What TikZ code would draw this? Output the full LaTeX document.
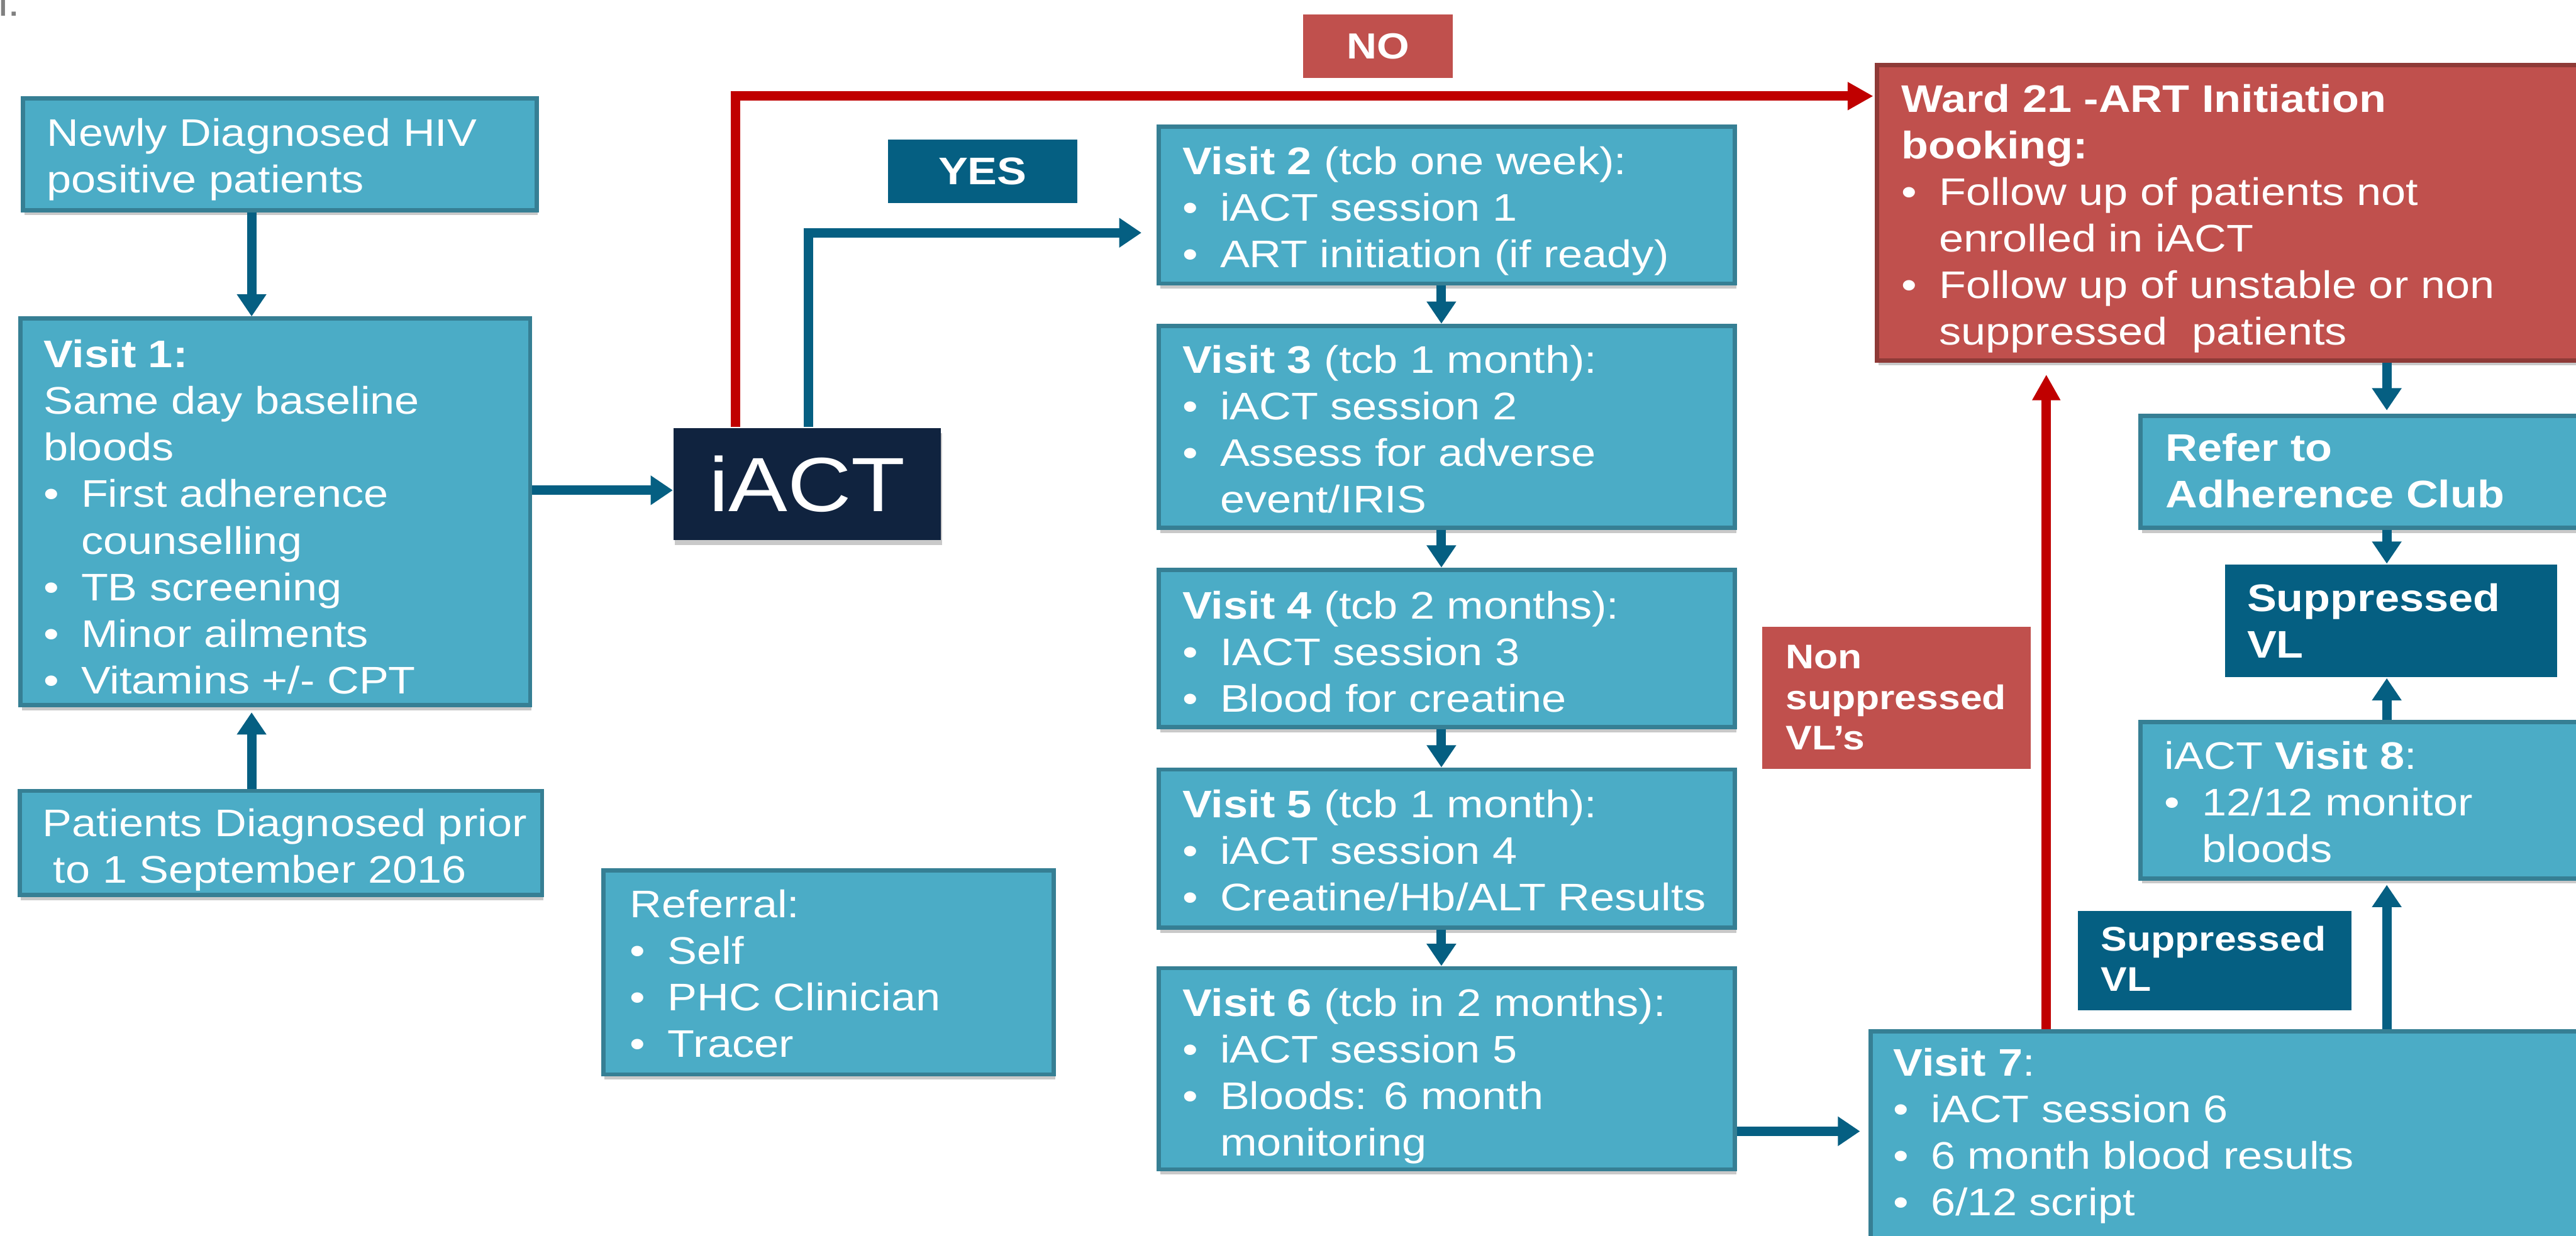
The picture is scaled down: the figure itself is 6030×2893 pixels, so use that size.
\documentclass[tikz,border=0pt]{standalone}
\usepackage{fontspec}
\setmainfont{Liberation Sans}[FakeStretch=1.15]
\usetikzlibrary{arrows.meta,fit,shadows}
\definecolor{boxfill}{HTML}{4BACC6}
\definecolor{boxline}{HTML}{367F94}
\definecolor{arrowblue}{HTML}{055F82}
\definecolor{navy}{HTML}{10233F}
\definecolor{redfill}{HTML}{C0504D}
\definecolor{redline}{HTML}{8E3A37}
\definecolor{redarrow}{HTML}{C00000}
\newcommand\txtblock[1]{\begin{minipage}[t]{200pt}\parindent=0pt\parskip=0pt #1\end{minipage}}
\newcommand\bitem{\par\hangindent=8.8pt\hangafter=1\noindent\makebox[8.8pt][l]{•}}
\tikzset{
  shad/.style={drop shadow={shadow xshift=0.3pt, shadow yshift=-1.2pt, opacity=0.3, fill=black!70}},
  box/.style={fill=boxfill, draw=boxline, line width=1pt, inner sep=0pt, shad},
  redbox/.style={fill=redfill, draw=redline, line width=1pt, inner sep=0pt, shad},
  navybox/.style={fill=navy, inner sep=0pt, shad},
  labelblue/.style={fill=arrowblue, inner sep=0pt},
  labelred/.style={fill=redfill, inner sep=0pt},
  ctxt/.style={inner sep=0pt, anchor=center, text=white},
  txt/.style={inner sep=0pt, anchor=base west, text=white, font=\fontsize{9pt}{10.9pt}\selectfont},
  barrow/.style={draw=arrowblue, line width=2.2pt, -{Triangle[width=6.6pt,length=5.2pt]}},
  rarrow/.style={draw=redarrow, line width=2.2pt, -{Triangle[width=6.2pt,length=6pt]}},
}
\begin{document}
\begin{tikzpicture}[x=0.1pt,y=-0.1pt]
\useasboundingbox (0,0) rectangle (6030,2893);
\clip (0,0) rectangle (6030,2893);

\node[inner sep=0pt, anchor=base west, text=black!50, font=\fontsize{9pt}{10pt}\selectfont] (lt) at (-6,37) {l.};

% boxes
\node[box, fit={(54,230)(1256,492)}] (newly) {};
\node[box, fit={(48,746)(1241,1651)}] (v1) {};
\node[box, fit={(46,1852)(1269,2096)}] (pat) {};
\node[navybox, fit={(1577,1002)(2202,1264)}] (iact) {};
\node[labelblue, fit={(2078,327)(2522,475)}] (yes) {};
\node[labelred, fit={(3051,34)(3400,182)}] (no) {};
\node[box, fit={(2713,297)(4061,664)}] (v2) {};
\node[box, fit={(2713,763)(4061,1236)}] (v3) {};
\node[box, fit={(2713,1334)(4061,1703)}] (v4) {};
\node[box, fit={(2713,1802)(4061,2172)}] (v5) {};
\node[box, fit={(2713,2267)(4061,2738)}] (v6) {};
\node[redbox, fit={(4394,152)(6300,844)}] (ward) {};
\node[box, fit={(5011,974)(6300,1236)}] (refer) {};
\node[labelblue, fit={(5208,1322)(5986,1586)}] (supup) {};
\node[box, fit={(5011,1691)(6300,2057)}] (v8) {};
\node[labelblue, fit={(4864,2133)(5505,2365)}] (suplow) {};
\node[labelred, fit={(4125,1468)(4753,1800)}] (nonsup) {};
\node[box, fit={(4379,2415)(6300,3100)}] (v7) {};
\node[box, fit={(1412,2038)(2467,2516)}] (refl) {};

% centred labels
\node[ctxt, font=\fontsize{18pt}{20pt}\selectfont] (tiact) at (iact.center) {iACT};
\node[ctxt, font=\fontsize{9pt}{10pt}\selectfont\bfseries] (tyes) at (yes.center) {YES};
\node[ctxt, font=\fontsize{8.5pt}{10pt}\selectfont\bfseries] (tno) at (no.center) {NO};

% texts
\node[txt] (tnewly) at (108,342) {\txtblock{Newly Diagnosed HIV\\positive patients}};
\node[txt] (tv1) at (100,861) {\txtblock{\textbf{Visit 1:}\\Same day baseline\\bloods\bitem First adherence\\counselling\bitem TB screening\bitem Minor ailments\bitem Vitamins +/- CPT}};
\node[txt] (tpat) at (98,1959) {\txtblock{Patients Diagnosed prior\\\hspace*{2.5pt}to 1 September 2016}};
\node[txt] (tv2) at (2766,408) {\txtblock{\textbf{Visit 2} (tcb one week):\bitem iACT session 1\bitem ART initiation (if ready)}};
\node[txt] (tv3) at (2766,873) {\txtblock{\textbf{Visit 3} (tcb 1 month):\bitem iACT session 2\bitem Assess for adverse\\event/IRIS}};
\node[txt] (tv4) at (2766,1449) {\txtblock{\textbf{Visit 4} (tcb 2 months):\bitem IACT session 3\bitem Blood for creatine}};
\node[txt] (tv5) at (2766,1915) {\txtblock{\textbf{Visit 5} (tcb 1 month):\bitem iACT session 4\bitem Creatine/Hb/ALT Results}};
\node[txt] (tv6) at (2766,2380) {\txtblock{\textbf{Visit 6} (tcb in 2 months):\bitem iACT session 5\bitem Bloods: 6 month\\monitoring}};
\node[txt] (tward) at (4449,263) {\txtblock{\textbf{Ward 21 -ART Initiation}\\\textbf{booking:}\bitem Follow up of patients not\\enrolled in iACT\bitem Follow up of unstable or non\\suppressed\ \ patients}};
\node[txt] (trefer) at (5067,1080) {\txtblock{\textbf{Refer to}\\\textbf{Adherence Club}}};
\node[txt] (tsupup) at (5258,1432) {\txtblock{\textbf{Suppressed}\\\textbf{VL}}};
\node[txt] (tv8) at (5065,1801) {\txtblock{iACT \textbf{Visit 8}:\bitem 12/12 monitor\\bloods}};
\node[txt, font=\fontsize{8pt}{9.4pt}\selectfont] (tsuplow) at (4916,2227) {\txtblock{\textbf{Suppressed}\\\textbf{VL}}};
\node[txt, font=\fontsize{8pt}{9.5pt}\selectfont] (tnonsup) at (4178,1566) {\txtblock{\textbf{Non}\\\textbf{suppressed}\\\textbf{VL’s}}};
\node[txt] (tv7) at (4430,2519) {\txtblock{\textbf{Visit 7}:\bitem iACT session 6\bitem 6 month blood results\bitem 6/12 script}};
\node[txt] (trefl) at (1473,2148) {\txtblock{Referral:\bitem Self\bitem PHC Clinician\bitem Tracer}};

% connector coordinates
\coordinate (xa) at (589,0);
\coordinate (ya) at (0,1148);
\coordinate (yx) at (1892,545);
\coordinate (nx) at (1721,225);
\coordinate (vx) at (3374,0);
\coordinate (y67) at (0,2649);
\coordinate (rx) at (5587,0);
\coordinate (wx) at (4790,0);

% arrows
\draw[barrow] (xa |- newly.south) -- (xa |- v1.north);
\draw[barrow, shorten >=1.2pt] (xa |- pat.north) -- (xa |- v1.south);
\draw[barrow] (v1.east |- ya) -- (iact.west |- ya);
\draw[barrow, shorten >=3.6pt] (iact.north -| yx) -- (yx) -- (v2.west |- yx);
\draw[rarrow, shorten >=0.4pt] (iact.north -| nx) -- (nx) -- (ward.west |- nx);
\draw[barrow] (vx |- v2.south) -- (vx |- v3.north);
\draw[barrow] (vx |- v3.south) -- (vx |- v4.north);
\draw[barrow] (vx |- v4.south) -- (vx |- v5.north);
\draw[barrow] (vx |- v5.south) -- (vx |- v6.north);
\draw[barrow, shorten >=2pt] (v6.east |- y67) -- (v7.west |- y67);
\draw[barrow, shorten >=1pt] (rx |- v7.north) -- (rx |- v8.south);
\draw[barrow] (rx |- v8.north) -- (rx |- supup.south);
\draw[barrow, shorten >=0.8pt] (rx |- ward.south) -- (rx |- refer.north);
\draw[barrow] (rx |- refer.south) -- (rx |- supup.north);
\draw[rarrow, shorten >=2.8pt] (wx |- v7.north) -- (wx |- ward.south);
\end{tikzpicture}
\end{document}
